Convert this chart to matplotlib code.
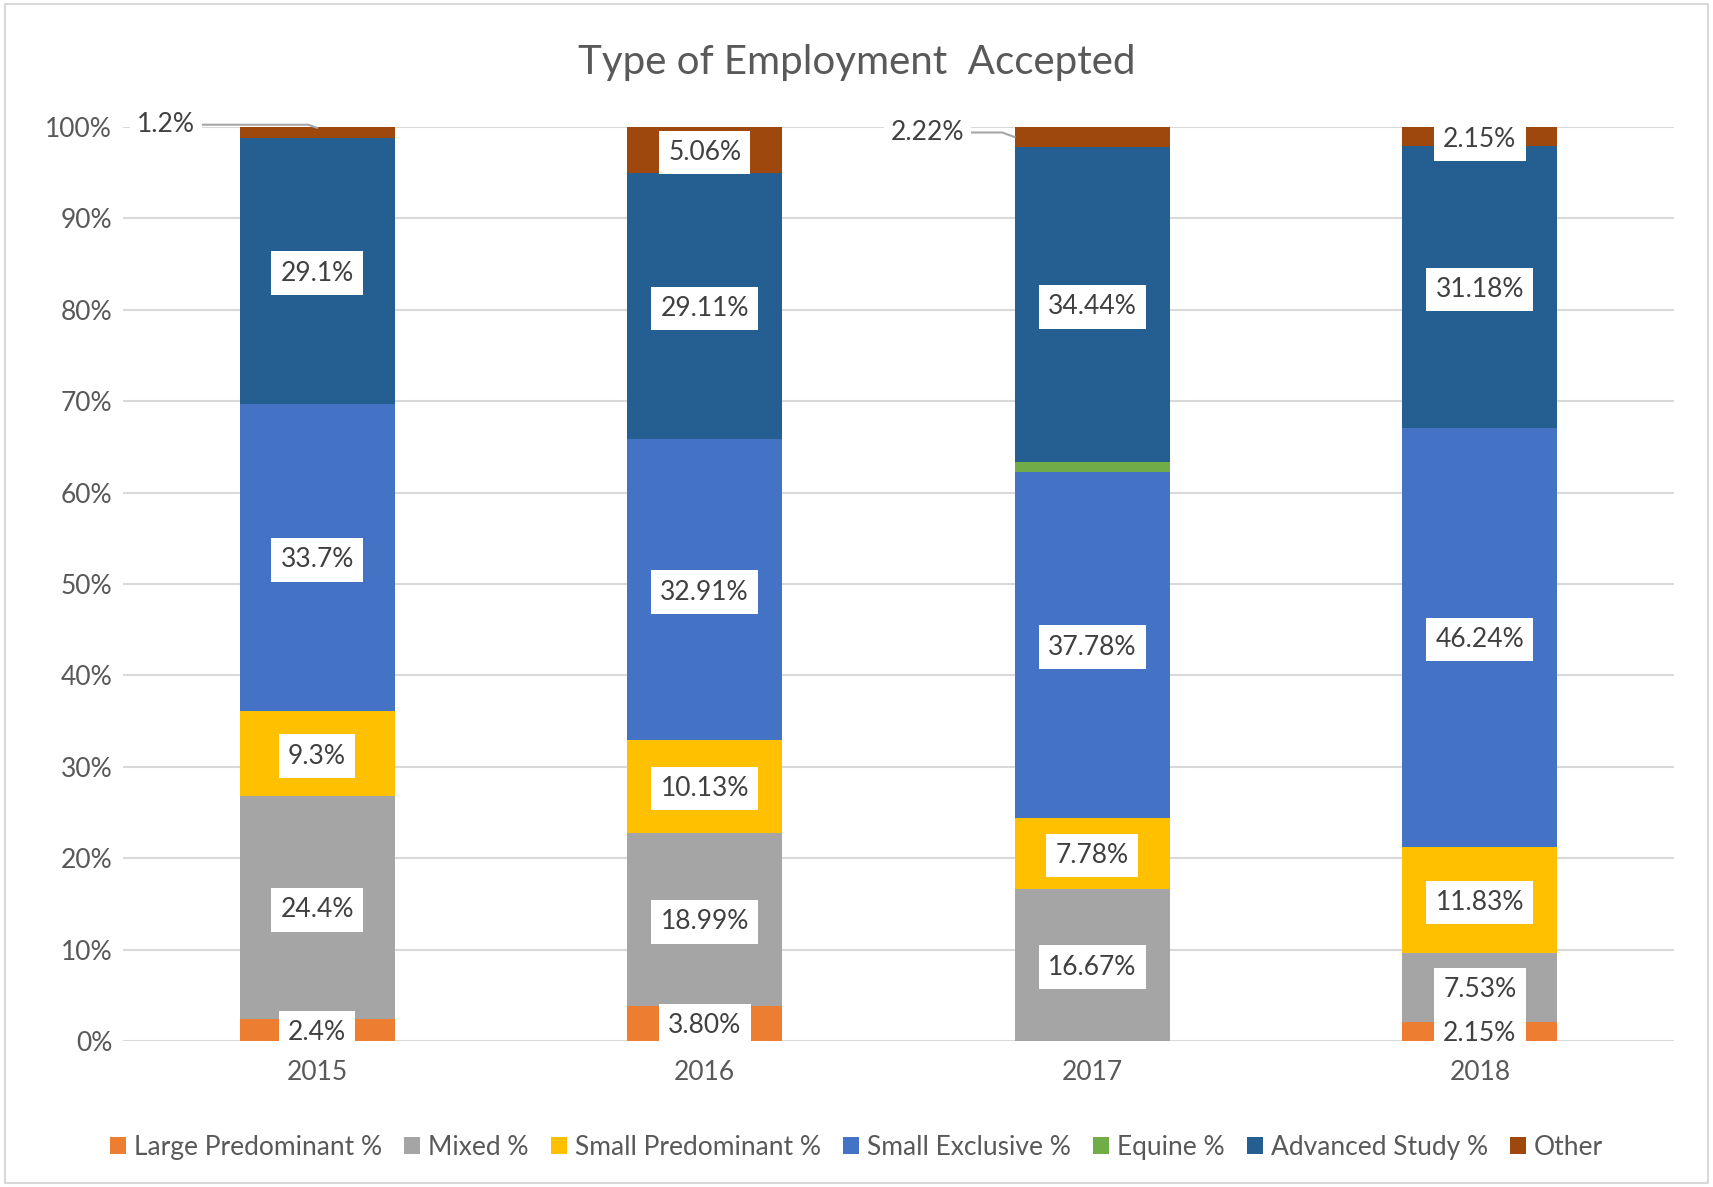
import numpy as np
import matplotlib
matplotlib.use("Agg")
import matplotlib.pyplot as plt
from matplotlib.patches import Rectangle

plt.rcParams['font.family'] = ['Lato', 'DejaVu Sans']

years = ['2015', '2016', '2017', '2018']
series = ['Large Predominant %', 'Mixed %', 'Small Predominant %', 'Small Exclusive %',
          'Equine %', 'Advanced Study %', 'Other']
large_pred = [2.4, 3.80, 0.0, 2.15]
mixed = [24.4, 18.99, 16.67, 7.53]
small_pred = [9.3, 10.13, 7.78, 11.83]
small_excl = [33.7, 32.91, 37.78, 46.24]
equine = [0.0, 0.0, 1.11, 0.0]
advanced = [29.1, 29.11, 34.44, 31.18]
other = [1.2, 5.06, 2.22, 2.15]
decimals = [1, 2, 2, 2]

colors = ['#ED7D31', '#A5A5A5', '#FFC000', '#4472C4', '#70AD47', '#255E91', '#9E480E']
data = np.array([large_pred, mixed, small_pred, small_excl, equine, advanced, other])
totals = data.sum(axis=0)
shares = data / totals * 100

fig = plt.figure(figsize=(17.13, 11.87), dpi=100)
ax = fig.add_axes([0.072, 0.123, 0.905, 0.77])
x = np.arange(len(years))
bottom = np.zeros(len(years))
txt = '#404040'
fs = 19
for i, name in enumerate(series):
    ax.bar(x, shares[i], 0.4, bottom=bottom, color=colors[i], label=name, zorder=2)
    for j in range(len(years)):
        v = data[i, j]
        # equine slice is unlabeled in the original
        if v == 0 or name == 'Equine %':
            continue
        lab = f"{v:.{decimals[j]}f}%"
        yc = bottom[j] + shares[i, j] / 2 - 0.25
        if name == 'Other' and years[j] in ('2015', '2017'):
            # label placed outside with leader line
            if years[j] == '2015':
                tx, ty, px, py = -0.39, 100.25, 0.0, 99.9
            else:
                tx, ty, px, py = 1.575, 99.4, 1.8, 98.9
            ax.annotate(lab, xy=(px, py), xytext=(tx, ty), ha='center', va='center',
                        fontsize=fs, color=txt, zorder=4,
                        bbox=dict(boxstyle='square,pad=0.25', fc='white', ec='none'),
                        arrowprops=dict(arrowstyle='-', color='#A6A6A6', lw=1.5,
                                        connectionstyle='angle,angleA=0,angleB=160,rad=0',
                                        shrinkA=0, shrinkB=0))
            continue
        ax.text(x[j], yc, lab, ha='center', va='center', fontsize=fs, color=txt, zorder=4,
                bbox=dict(boxstyle='square,pad=0.35', fc='white', ec='none'))
    bottom += shares[i]

ax.set_xlim(-0.5, 3.5)
ax.set_ylim(0, 100)
ax.set_yticks(np.arange(0, 101, 10))
ax.set_yticklabels([f"{t}%" for t in range(0, 101, 10)])
ax.set_xticks(x)
ax.set_xticklabels(years)
ax.tick_params(axis='both', length=0, labelsize=fs, labelcolor='#595959')
ax.tick_params(axis='x', pad=14)
ax.tick_params(axis='y', pad=8)
ax.grid(axis='y', color='#D9D9D9', lw=1.5, zorder=0)
for s in ax.spines.values():
    s.set_visible(False)

fig.suptitle('Type of Employment  Accepted', y=0.963, fontsize=29, color='#595959')
fig.legend(loc='lower center', bbox_to_anchor=(0.5, 0.003), ncol=7, frameon=False,
           fontsize=fs, labelcolor='#595959', handlelength=0.6, handleheight=0.6,
           handletextpad=0.3, columnspacing=0.85)
fig.patches.append(Rectangle((0.003, 0.003), 0.994, 0.994, transform=fig.transFigure,
                             fill=False, ec='#D9D9D9', lw=1.5))

fig.savefig('out.png', dpi=100, facecolor='white')
